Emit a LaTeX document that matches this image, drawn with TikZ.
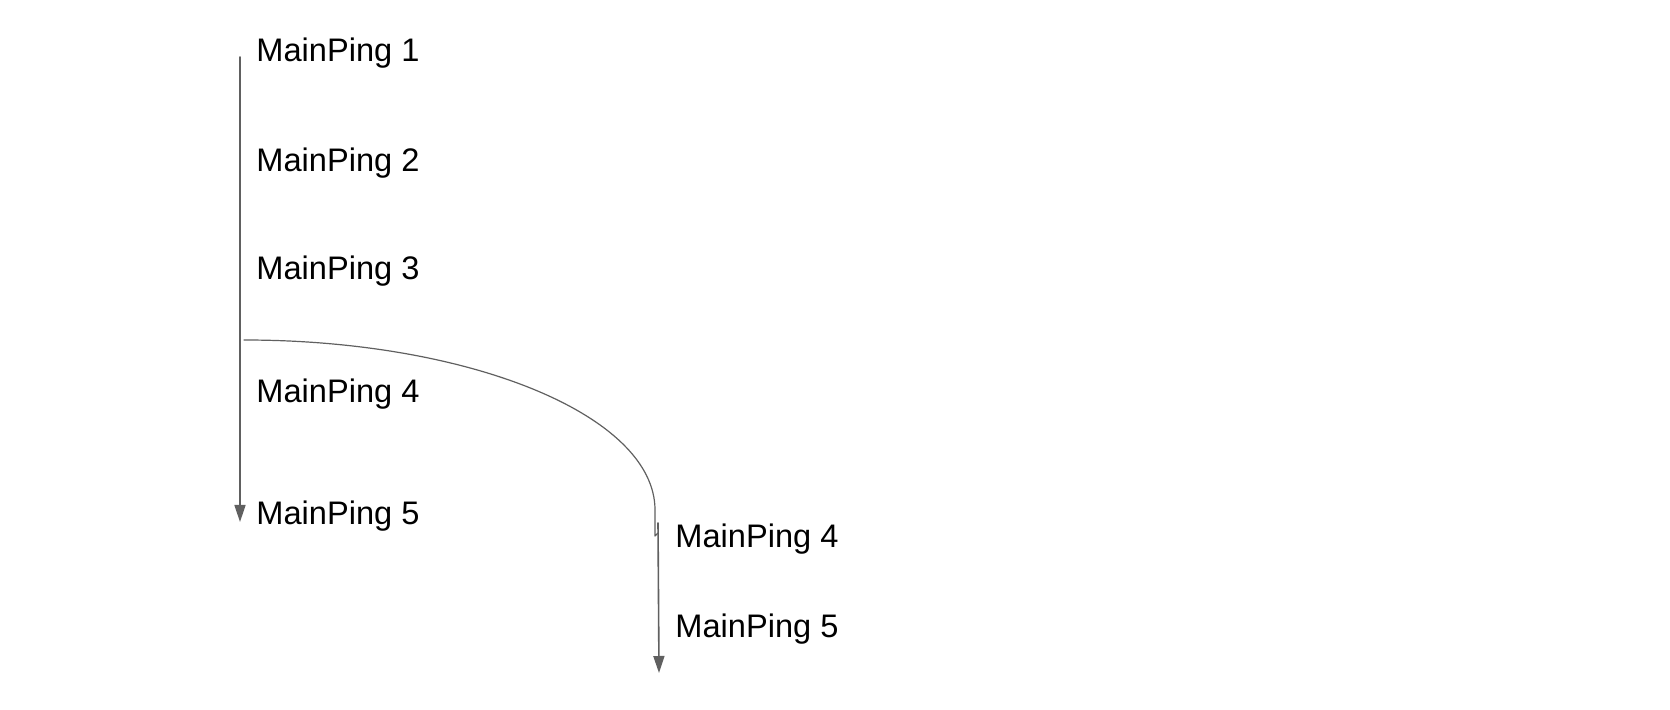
\documentclass[tikz,border=0pt]{standalone}
\usepackage{fontspec}
\setmainfont{Liberation Sans}
\usetikzlibrary{arrows.meta, calc, positioning}
\definecolor{linegray}{HTML}{606060}

\begin{document}
\begin{tikzpicture}[line cap=round,line join=round,x=0.5pt,y=-0.5pt,
  >={Triangle[length=8.5pt,width=5.5pt]},
  every node/.style={font=\fontsize{16.3}{19}\selectfont, anchor=base west, inner sep=0pt}]
\useasboundingbox (0,0) rectangle (1670,710);
% Main line
\coordinate (T) at (240,57);
\coordinate (E) at (240,522);
% Branch
\coordinate (S) at (244,340);
\coordinate (K) at (655,510);
\coordinate (H) at (655,536); % small hook at the end of the curve
\coordinate (U) at (658,523);
\coordinate (F) at (659,673);

% Draw
\draw [line width=0.8pt, color=linegray, ->] (T) -- (E);
\draw [line width=0.6pt, color=linegray] (S) .. controls (471,340) and (655,416) .. (K) -- (H) -- ++(3,-3);
\draw [line width=0.8pt, color=linegray, ->] (U) -- (F);

% Labels
\foreach \n/\y in {1/62,2/172,3/280,4/403,5/525}
\node (m\n) at (256,\y) {MainPing \n};
\foreach \n/\y in {4/548,5/637}
\node (b\n) at (675,\y) {MainPing \n};
\end{tikzpicture}
\end{document}
